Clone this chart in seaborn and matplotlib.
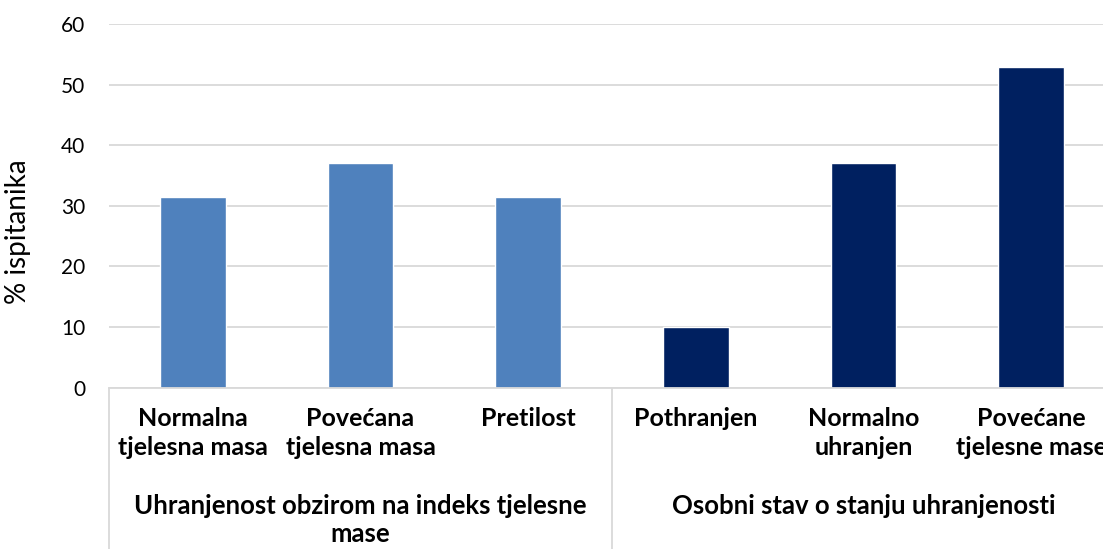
import matplotlib
matplotlib.use("Agg")
import matplotlib.pyplot as plt
import matplotlib.transforms as mtransforms
import seaborn as sns
import pandas as pd

categories = ["Normalna\ntjelesna masa", "Povećana\ntjelesna masa", "Pretilost",
              "Pothranjen", "Normalno\nuhranjen", "Povećane\ntjelesne mase"]
values = [31.4, 37.1, 31.4, 10.0, 37.1, 52.9]
groups = ["Uhranjenost obzirom na indeks tjelesne\nmase"] * 3 + ["Osobni stav o stanju uhranjenosti"] * 3
group_names = ["Uhranjenost obzirom na indeks tjelesne\nmase", "Osobni stav o stanju uhranjenosti"]
colors = ["#4F81BD", "#002060"]
y_ticks = [0, 10, 20, 30, 40, 50, 60]
y_label = "% ispitanika"

sns.set_theme(style="white")
plt.rcParams['font.family'] = ['Lato', 'DejaVu Sans']

df = pd.DataFrame({"cat": categories, "val": values, "grp": groups})

fig = plt.figure(figsize=(11.03, 5.49), dpi=100)
ax = fig.add_axes([109 / 1103, (549 - 387.5) / 549, 1006 / 1103, 363.2 / 549])

sns.barplot(data=df, x="cat", y="val", hue="grp", palette=colors, dodge=False,
            width=0.39, ax=ax, legend=False, saturation=1)

ax.set_ylim(0, 60)
ax.set_xlim(-0.5, 5.5)
ax.set_yticks(y_ticks)
ax.set_yticklabels([str(t) for t in y_ticks], fontsize=15, color="black")
ax.yaxis.grid(True, color="#D9D9D9", linewidth=1.3)
ax.set_axisbelow(True)
for s in ["top", "right", "left"]:
    ax.spines[s].set_visible(False)
ax.spines["bottom"].set_color("#D9D9D9")
ax.spines["bottom"].set_linewidth(1.3)
ax.tick_params(axis="y", length=0, pad=17)
ax.tick_params(axis="x", length=0, pad=14)
ax.set_xticks(range(len(categories)))
ax.set_xticklabels(categories, fontsize=18, fontweight="bold", color="black", linespacing=1.3)
ax.set_xlabel("")
ax.set_ylabel(y_label, fontsize=20, color="black")
ax.yaxis.set_label_coords(-0.0775, 0.43)

trans = mtransforms.blended_transform_factory(ax.transData, ax.transAxes)
for xs in [-0.5, 2.5, 5.5]:
    ax.plot([xs, xs], [0, -0.5], transform=trans, color="#D9D9D9", lw=1.3, clip_on=False)
for i, g in enumerate(group_names):
    ax.text(1 + 3 * i, -0.292, g, transform=trans, ha="center", va="top", fontsize=18.5,
            fontweight="bold", color="black", linespacing=1.2)

fig.savefig("out.png", dpi=100)
